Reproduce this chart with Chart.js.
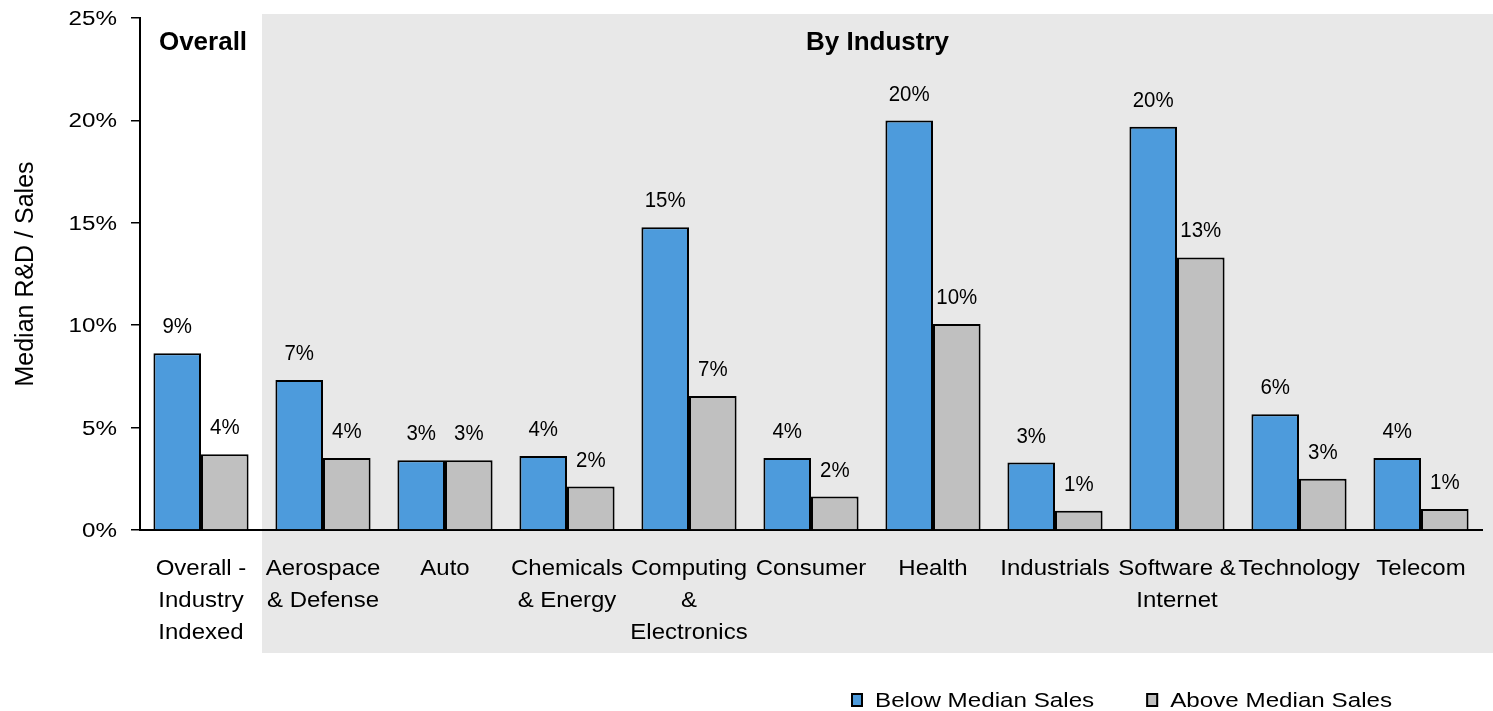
<!DOCTYPE html>
<html>
<head>
<meta charset="utf-8">
<title>Median R&amp;D / Sales</title>
<script src="https://cdn.jsdelivr.net/npm/chart.js@4.4.1/dist/chart.umd.min.js"></script>
<style>
  html, body { margin: 0; padding: 0; background: #fff; overflow: hidden; }
  #chart { display: block; }
</style>
</head>
<body>
<canvas id="chart" width="1493" height="711"></canvas>
<script>
// Categories, one array of lines per tick label
const categories = [
    ["Overall -", "Industry", "Indexed"],
    ["Aerospace", "& Defense"],
    ["Auto"],
    ["Chemicals", "& Energy"],
    ["Computing", "&", "Electronics"],
    ["Consumer"],
    ["Health"],
    ["Industrials"],
    ["Software &", "Internet"],
    ["Technology"],
    ["Telecom"],
];

// Median R&D / Sales, in percent
const belowMedianSales = [8.63, 7.32, 3.4, 3.61, 14.78, 3.52, 19.99, 3.29, 19.69, 5.65, 3.52];
const aboveMedianSales = [3.7, 3.52, 3.4, 2.12, 6.54, 1.63, 10.06, 0.94, 13.31, 2.5, 1.03];

const seriesNames = ["Below Median Sales", "Above Median Sales"];
const yTicks = [0, 5, 10, 15, 20, 25];
const sectionTitles = ["Overall", "By Industry"];

const FONT = '"Liberation Sans", Arial, sans-serif';
const COLORS = ["#4d9bdc", "#c0c0c0"];
const BAND = "#e8e8e8";

// draw a string with an optional horizontal stretch
function drawText(ctx, text, x, y, font, align, sx) {
    ctx.save();
    ctx.font = font;
    ctx.textAlign = align;
    ctx.textBaseline = "alphabetic";
    ctx.fillStyle = "#000";
    ctx.translate(x, y);
    ctx.scale(sx || 1, 1);
    ctx.fillText(text, 0, 0);
    ctx.restore();
}

const annotate = {
    id: "annotate",
    beforeDraw(chart) {
        const { ctx, scales: { x } } = chart;
        // shaded panel behind the industry groups
        const left = (x.getPixelForValue(0) + x.getPixelForValue(1)) / 2;
        ctx.save();
        ctx.fillStyle = BAND;
        ctx.fillRect(left, 14, chart.width - left, 639);
        ctx.restore();
    },
    afterDatasetsDraw(chart) {
        const { ctx } = chart;
        chart.data.datasets.forEach((ds, d) => {
            chart.getDatasetMeta(d).data.forEach((bar, i) => {
                drawText(ctx, Math.round(ds.data[i]) + "%", bar.x, bar.y - 20, "22px " + FONT, "center", 0.93);
            });
        });
    },
    afterDraw(chart) {
        const { ctx, chartArea, scales: { x, y } } = chart;

        // y tick labels
        y.ticks.forEach((t) => {
            drawText(ctx, t.value + "%", chartArea.left - 23, y.getPixelForValue(t.value) + 7,
                "20.5px " + FONT, "right", 1.18);
        });

        // x tick labels, multi-line
        categories.forEach((lines, i) => {
            const px = x.getPixelForTick(i);
            lines.forEach((line, k) => {
                drawText(ctx, line, px, chartArea.bottom + 45 + k * 32, "22px " + FONT, "center", 1.09);
            });
        });

        // section headings
        const bandLeft = (x.getPixelForValue(0) + x.getPixelForValue(1)) / 2;
        drawText(ctx, sectionTitles[0], x.getPixelForValue(0) + 2, 50, "bold 26px " + FONT, "center");
        drawText(ctx, sectionTitles[1], (bandLeft + chart.width) / 2, 50, "bold 26px " + FONT, "center");

        // legend
        let lx = 851;
        chart.data.datasets.forEach((ds) => {
            ctx.save();
            ctx.fillStyle = ds.backgroundColor;
            ctx.fillRect(lx, 693, 12, 14);
            ctx.lineWidth = 2;
            ctx.strokeStyle = "#000";
            ctx.strokeRect(lx + 1, 694, 10, 12);
            ctx.font = "20.5px " + FONT;
            const w = ctx.measureText(ds.label).width * 1.18;
            ctx.restore();
            drawText(ctx, ds.label, lx + 24, 707, "20.5px " + FONT, "left", 1.18);
            lx += 24 + w + 52;
        });
    },
};

new Chart(document.getElementById("chart"), {
    type: "bar",
    data: {
        labels: categories,
        datasets: [
            {
                label: seriesNames[0],
                data: belowMedianSales,
                backgroundColor: COLORS[0],
                borderColor: "#000",
                borderWidth: 2,
            },
            {
                label: seriesNames[1],
                data: aboveMedianSales,
                backgroundColor: COLORS[1],
                borderColor: "#000",
                borderWidth: 2,
            },
        ],
    },
    options: {
        responsive: false,
        animation: false,
        layout: { padding: { top: 18, right: 11, bottom: 0, left: 0 } },
        datasets: { bar: { categoryPercentage: 0.78, barPercentage: 1 } },
        scales: {
            x: {
                grid: { display: false, drawTicks: false },
                border: { display: true, color: "#000", width: 2 },
                ticks: { display: false, autoSkip: false, maxRotation: 0 },
                afterFit(scale) { scale.height = 181; },
            },
            y: {
                min: yTicks[0],
                max: yTicks[yTicks.length - 1],
                ticks: { display: false, stepSize: yTicks[1] - yTicks[0] },
                grid: {
                    drawOnChartArea: false,
                    drawTicks: true,
                    tickLength: 9,
                    color: "#000",
                    lineWidth: 1.5,
                },
                border: { display: true, color: "#000", width: 2 },
                title: {
                    display: true,
                    text: "Median R&D / Sales",
                    color: "#000",
                    font: { family: FONT, size: 25 },
                    padding: { top: 11, bottom: 0 },
                },
                afterFit(scale) { scale.width = 140; },
            },
        },
        plugins: {
            legend: { display: false },
            tooltip: { enabled: false },
        },
    },
    plugins: [annotate],
});
</script>
</body>
</html>
